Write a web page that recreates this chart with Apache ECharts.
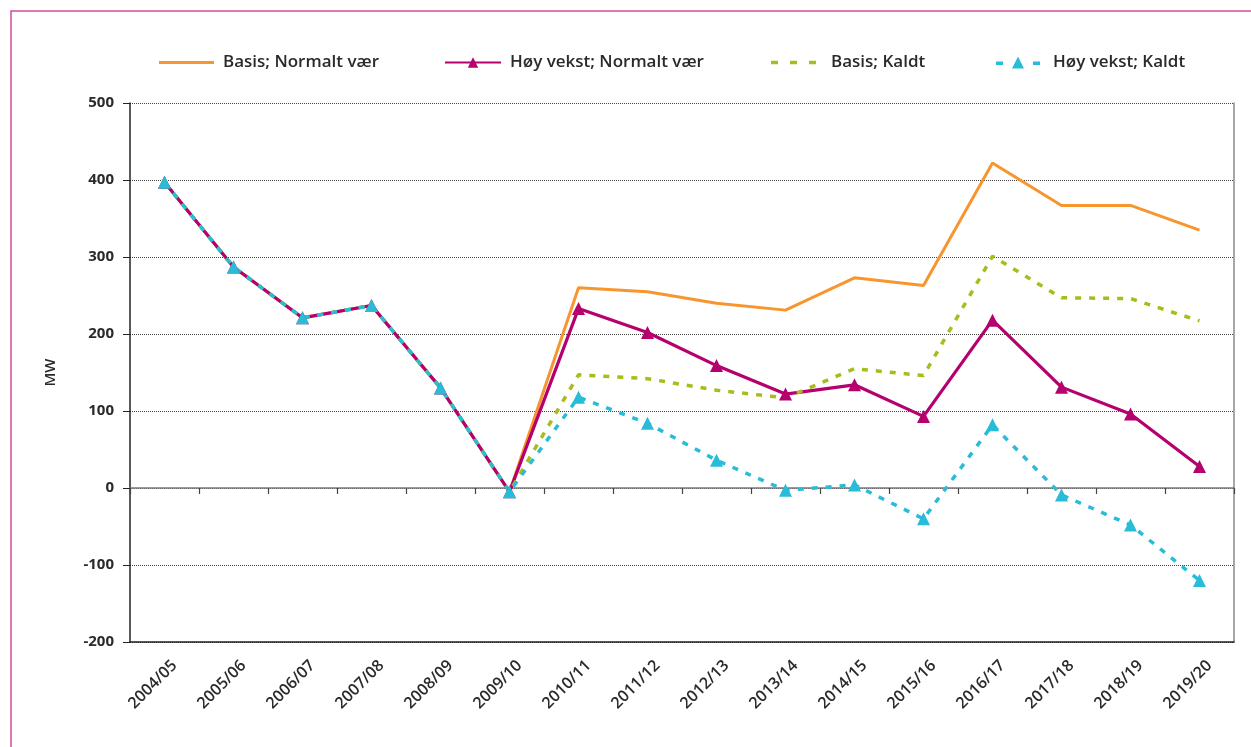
<!DOCTYPE html>
<html>
<head>
<meta charset="utf-8">
<script src="https://cdn.jsdelivr.net/npm/echarts@6/dist/echarts.min.js"></script>
<style>
  html, body { margin: 0; padding: 0; background: #fff; }
  #chart { width: 1251px; height: 747px; }
</style>
</head>
<body>
<div id="chart"></div>
<script>
// Data
const categories = ['2004/05', '2005/06', '2006/07', '2007/08', '2008/09', '2009/10', '2010/11', '2011/12',
  '2012/13', '2013/14', '2014/15', '2015/16', '2016/17', '2017/18', '2018/19', '2019/20'];

const basisNormalt = [397, 287, 221, 237, 130, -5, 260, 255, 240, 231, 273, 263, 422, 367, 367, 335];
const hoyNormalt   = [397, 287, 221, 237, 130, -5, 233, 202, 159, 122, 134, 93, 218, 131, 96, 28];
const basisKaldt   = [397, 287, 221, 237, 130, -5, 147, 142, 127, 117, 155, 146, 301, 247, 246, 217];
const hoyKaldt     = [397, 287, 221, 237, 130, -5, 118, 84, 36, -3, 4, -40, 82, -9, -48, -120];

const yTicks = { min: -200, max: 500, interval: 100 };

const names = ['Basis; Normalt vær', 'Høy vekst; Normalt vær', 'Basis; Kaldt', 'Høy vekst; Kaldt'];
const colors = ['#f7962f', '#b5006e', '#a9bc1c', '#28bcd8'];

const FONT = '"Open Sans", "DejaVu Sans", sans-serif';
const txt = { color: '#2a2a2a', fontFamily: FONT, fontWeight: 600, fontSize: 15 };

const chart = echarts.init(document.getElementById('chart'));

// one legend per entry, the gaps between them are not even in the original
const legendAt = (item, left, width, gap) => ({
  data: [item],
  left: left,
  top: 49,
  itemWidth: width,
  itemHeight: 13,
  textStyle: { color: '#2a2a2a', fontFamily: FONT, fontWeight: 600, fontSize: 17, padding: [0, 0, 0, gap] }
});

const option = {
  animation: false,
  backgroundColor: '#fff',
  graphic: [{
    type: 'rect',
    shape: { x: 11, y: 11, width: 1400, height: 900 },
    style: { fill: 'none', stroke: '#cf4f94', lineWidth: 1.5 },
    silent: true
  }],
  legend: [
    legendAt({ name: names[0], icon: 'path://M0,0h55v3h-55z' }, 154, 55, 4),
    legendAt(names[1], 439, 56, 4),
    legendAt({ name: names[2], icon: 'path://M0,0h7v3.5h-7z M19,0h7v3.5h-7z M38,0h7v3.5h-7z' }, 766, 45, 10),
    legendAt({ name: names[3], icon: 'path://M0,6h7v3.5h-7z M16,13L22,1L28,13z M37,6h7v3.5h-7z' }, 991, 44, 8)
  ],
  grid: [
    { left: 130, right: 17, top: 103, bottom: 105 },
    // label-only grid, nudged right so the slanted labels sit like the original
    { left: 140, right: 7, top: 103, bottom: 105 }
  ],
  xAxis: [
    {
      type: 'category', gridIndex: 0, data: categories, boundaryGap: true,
      axisLine: { onZero: false, lineStyle: { color: '#222', width: 1.5 } },
      axisTick: { show: false }, axisLabel: { show: false }, splitLine: { show: false }
    },
    {
      type: 'category', gridIndex: 0, data: categories, boundaryGap: true, position: 'bottom',
      axisLine: { onZero: true, lineStyle: { color: '#7a7a7a', width: 1.5 } },
      axisTick: { show: true, length: 6, lineStyle: { color: '#444', width: 1.2 } },
      axisLabel: { show: false }, splitLine: { show: false }
    },
    {
      type: 'category', gridIndex: 1, data: categories, boundaryGap: true,
      axisLine: { show: false }, axisTick: { show: false },
      axisLabel: Object.assign({ rotate: 45, margin: 21, interval: 0 }, txt, { fontSize: 16 })
    }
  ],
  yAxis: [
    {
      type: 'value', gridIndex: 0, min: yTicks.min, max: yTicks.max, interval: yTicks.interval,
      name: 'MW', nameLocation: 'middle', nameGap: 72, nameRotate: 90,
      nameTextStyle: txt,
      axisLine: { show: true, lineStyle: { color: '#222', width: 1.5 } },
      axisTick: { show: true, length: 7, lineStyle: { color: '#222' } },
      axisLabel: Object.assign({ margin: 16 }, txt, { fontWeight: 'bold' }),
      splitLine: { lineStyle: { color: '#444', type: [1, 1], width: 1 } }
    },
    {
      type: 'value', gridIndex: 0, position: 'right', min: yTicks.min, max: yTicks.max, interval: yTicks.interval,
      axisLine: { show: true, lineStyle: { color: '#8a8a8a', width: 1.5 } },
      axisTick: { show: false }, axisLabel: { show: false }, splitLine: { show: false }
    },
    { type: 'value', gridIndex: 1, show: false, min: yTicks.min, max: yTicks.max }
  ],
  series: [
    {
      name: names[0], type: 'line', data: basisNormalt, symbol: 'none',
      lineStyle: { color: colors[0], width: 3 }, itemStyle: { color: colors[0] }
    },
    {
      name: names[1], type: 'line', data: hoyNormalt, symbol: 'triangle', symbolSize: 13,
      lineStyle: { color: colors[1], width: 3.2 }, itemStyle: { color: colors[1] }
    },
    {
      name: names[2], type: 'line', data: basisKaldt, symbol: 'none',
      lineStyle: { color: colors[2], width: 3.5, type: [6, 8] }, itemStyle: { color: colors[2] }
    },
    {
      name: names[3], type: 'line', data: hoyKaldt, symbol: 'triangle', symbolSize: 13,
      lineStyle: { color: colors[3], width: 3.5, type: [6, 8] }, itemStyle: { color: colors[3] }
    }
  ]
};

chart.setOption(option);
</script>
</body>
</html>
